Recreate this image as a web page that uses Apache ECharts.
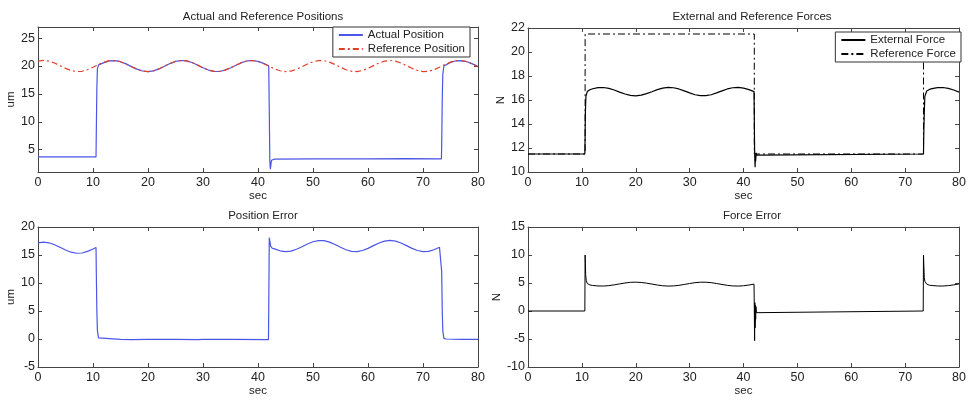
<!DOCTYPE html>
<html>
<head>
<meta charset="utf-8">
<title>Positions and Forces</title>
<script src="https://cdn.jsdelivr.net/npm/echarts@6/dist/echarts.min.js"></script>
<style>
  html, body { margin: 0; padding: 0; background: #fff; }
  #chart { width: 969px; height: 403px; }
</style>
</head>
<body>
<div id="chart"></div>
<script>
// reference position, one value per second from 0 to 80 (um)
var refPosVals = [20.88, 21.00, 20.88, 20.54, 20.07, 19.59, 19.20, 19.01, 19.06, 19.34,
  19.78, 20.27, 20.70, 20.96, 20.98, 20.77, 20.37, 19.88, 19.42, 19.10,
  19.00, 19.15, 19.50, 19.98, 20.46, 20.83, 20.99, 20.92, 20.62, 20.17,
  19.68, 19.27, 19.03, 19.03, 19.27, 19.68, 20.17, 20.62, 20.92, 20.99,
  20.83, 20.46, 19.98, 19.50, 19.15, 19.00, 19.10, 19.42, 19.88, 20.37,
  20.77, 20.98, 20.96, 20.70, 20.27, 19.78, 19.34, 19.06, 19.01, 19.20,
  19.59, 20.07, 20.54, 20.88, 21.00, 20.88, 20.54, 20.07, 19.59, 19.20,
  19.01, 19.06, 19.34, 19.78, 20.27, 20.70, 20.96, 20.98, 20.77, 20.37, 19.88];

// actual position [sec, um]
var actualPos = [[0, 3.7], [5, 3.7], [10, 3.7], [10.55, 3.7], [10.6, 8], [10.7, 16], [10.8, 19.5],
  [11, 20.2], [12, 20.62], [13, 20.92], [14, 20.98], [15, 20.78], [16, 20.39], [17, 19.9],
  [18, 19.44], [19, 19.11], [20, 19.0], [21, 19.14], [22, 19.48], [23, 19.96], [24, 20.44],
  [25, 20.82], [26, 20.99], [27, 20.93], [28, 20.63], [29, 20.19], [30, 19.7], [31, 19.28],
  [32, 19.04], [33, 19.02], [34, 19.26], [35, 19.66], [36, 20.15], [37, 20.6], [38, 20.91],
  [39, 20.99], [40, 20.84], [41, 20.48], [41.95, 20.0], [42.05, 12], [42.15, 3], [42.25, 1.5],
  [42.45, 3.1], [43, 3.3], [50, 3.35], [60, 3.35], [67, 3.4], [73.35, 3.35], [73.4, 6],
  [73.5, 14], [73.6, 18.5], [73.8, 20.0], [74, 20.22], [75, 20.66], [76, 20.94], [77, 20.98],
  [78, 20.78], [79, 20.39], [80, 19.9]];

// position error [sec, um]
var posError = [[0, 17.18], [1, 17.3], [2, 17.18], [3, 16.84], [4, 16.37], [5, 15.89], [6, 15.5],
  [7, 15.31], [8, 15.36], [9, 15.64], [10, 16.08], [10.55, 16.35], [10.6, 12], [10.7, 5],
  [10.8, 1.5], [11, 0.2], [11.3, 0.0], [15, -0.05], [17, -0.12], [20, -0.05], [25, -0.05],
  [29, -0.12], [30, -0.06], [35, -0.05], [41.9, -0.12], [41.95, 5], [42.05, 18.1],
  [42.3, 16.6], [42.6, 16.2], [43, 16.1], [44, 15.75], [45, 15.6], [46, 15.7], [47, 16.02],
  [48, 16.48], [49, 16.97], [50, 17.37], [51, 17.58], [52, 17.56], [53, 17.3], [54, 16.87],
  [55, 16.38], [56, 15.94], [57, 15.66], [58, 15.61], [59, 15.8], [60, 16.19], [61, 16.67],
  [62, 17.14], [63, 17.48], [64, 17.6], [65, 17.48], [66, 17.14], [67, 16.67], [68, 16.19],
  [69, 15.8], [70, 15.61], [71, 15.66], [72, 15.94], [73, 16.38], [73.35, 16.6], [73.4, 12],
  [73.5, 5], [73.6, 1.5], [73.8, 0.1], [74.2, 0], [77, -0.05], [80, -0.08]];

// external force [sec, N]
var extForce = [[0, 11.5], [10.55, 11.5], [10.6, 13], [10.65, 15], [10.75, 16.3], [11, 16.7],
  [11.5, 16.85], [12, 16.94], [13, 17.03], [14, 17.04], [15, 16.97], [16, 16.83], [17, 16.66],
  [18, 16.5], [19, 16.38], [20, 16.35], [21, 16.4], [22, 16.53], [23, 16.69], [24, 16.86],
  [25, 16.99], [26, 17.05], [27, 17.02], [28, 16.92], [29, 16.76], [30, 16.59], [31, 16.44],
  [32, 16.36], [33, 16.36], [34, 16.44], [35, 16.59], [36, 16.76], [37, 16.92], [38, 17.02],
  [39, 17.05], [40, 16.99], [41, 16.86], [41.95, 16.7], [42.0, 14.5], [42.05, 12],
  [42.1, 11], [42.15, 10.4], [42.2, 11.3], [42.25, 10.9], [42.35, 11.6], [42.45, 11.4],
  [42.6, 11.5], [73.4, 11.5], [73.45, 13], [73.55, 15], [73.65, 16.3], [74, 16.75],
  [74.5, 16.88], [75, 16.95], [76, 17.03], [77, 17.04], [78, 16.97], [79, 16.83], [80, 16.66]];

// reference force [sec, N]
var refForce = [[0, 11.5], [10.6, 11.5], [10.6, 21.5], [42.0, 21.5], [42.0, 11.5],
  [73.4, 11.5], [73.4, 21.5], [80, 21.5]];

// force error [sec, N]
var forceError = [[0, 0], [10.55, 0], [10.6, 10], [10.65, 8.5], [10.7, 6.5], [10.8, 5.5],
  [11, 4.9], [11.5, 4.65], [12, 4.56], [13, 4.47], [14, 4.46], [15, 4.53], [16, 4.67],
  [17, 4.84], [18, 5.0], [19, 5.12], [20, 5.15], [21, 5.1], [22, 4.97], [23, 4.81],
  [24, 4.64], [25, 4.51], [26, 4.45], [27, 4.48], [28, 4.58], [29, 4.74], [30, 4.91],
  [31, 5.06], [32, 5.14], [33, 5.14], [34, 5.06], [35, 4.91], [36, 4.74], [37, 4.58],
  [38, 4.48], [39, 4.45], [40, 4.51], [41, 4.64], [41.95, 4.8], [42.0, 0.5], [42.03, -3],
  [42.06, -5.3], [42.1, 1.5], [42.15, -3], [42.2, 1], [42.25, -1.5], [42.3, 0.8],
  [42.4, -0.3], [42.5, 0], [73.35, 0], [73.4, 10], [73.45, 8.5], [73.55, 6], [73.65, 5.3],
  [74, 4.8], [74.5, 4.6], [75, 4.55], [76, 4.47], [77, 4.46], [78, 4.53], [79, 4.67], [80, 4.84]];

var posTicks = [5, 10, 15, 20, 25];

var refPos = refPosVals.map(function (v, i) { return [i, v]; });

var FONT = 'Liberation Sans';
var grids = [
  { left: 38, top: 27, width: 440, height: 145 },
  { left: 528, top: 28, width: 436, height: 144 },
  { left: 38, top: 227, width: 440, height: 140 },
  { left: 528, top: 227, width: 436, height: 140 }
];
var lineAx = { show: true, onZero: false, lineStyle: { color: '#444', width: 1 } };
var tickAx = { show: true, inside: true, length: 4, lineStyle: { color: '#444' } };
var labelAx = { color: '#222', fontFamily: FONT, fontSize: 12.5 };

var xAxes = [], yAxes = [];
var yRanges = [
  { min: 1, max: 27, name: 'um' },
  { min: 10, max: 22, interval: 2, name: 'N' },
  { min: -5, max: 20, interval: 5, name: 'um' },
  { min: -10, max: 15, interval: 5, name: 'N' }
];
for (var g = 0; g < 4; g++) {
  // bottom and top x axes
  xAxes.push({ type: 'value', gridIndex: g, min: 0, max: 80, interval: 10, position: 'bottom',
    axisLine: lineAx, axisTick: tickAx, splitLine: { show: false },
    axisLabel: Object.assign({ margin: 4 }, labelAx),
    name: 'sec', nameLocation: 'middle', nameGap: 17,
    nameTextStyle: { color: '#222', fontFamily: FONT, fontSize: 11.5 } });
  xAxes.push({ type: 'value', gridIndex: g, min: 0, max: 80, interval: 10, position: 'top',
    axisLine: lineAx, axisTick: tickAx, splitLine: { show: false }, axisLabel: { show: false } });
  var r = yRanges[g];
  var yl = { type: 'value', gridIndex: g, min: r.min, max: r.max, position: 'left',
    axisLine: lineAx, axisTick: Object.assign({}, tickAx), splitLine: { show: false },
    axisLabel: Object.assign({ margin: 3 }, labelAx),
    name: r.name, nameLocation: 'middle', nameGap: g % 2 === 0 ? 18 : 17,
    nameTextStyle: { color: '#222', fontFamily: FONT, fontSize: 11.5 } };
  var yr = { type: 'value', gridIndex: g, min: r.min, max: r.max, position: 'right',
    axisLine: lineAx, axisTick: Object.assign({}, tickAx), splitLine: { show: false },
    axisLabel: { show: false } };
  if (r.interval) {
    yl.interval = r.interval; yr.interval = r.interval;
  } else {
    yl.axisLabel.customValues = posTicks;
    yl.axisTick.customValues = posTicks;
    yr.axisTick.customValues = posTicks;
  }
  yAxes.push(yl, yr);
}

function line(name, g, data, color, type, width, z) {
  return { name: name, type: 'line', xAxisIndex: g * 2, yAxisIndex: g * 2, data: data,
    showSymbol: false, symbol: 'none', animation: false, z: z || 2,
    lineStyle: { color: color, width: width || 1, type: type || 'solid' },
    itemStyle: { color: color } };
}

var legendBase = { orient: 'vertical', backgroundColor: '#fff', borderColor: '#333',
  borderWidth: 1, borderRadius: 0, padding: [2, 5, 2, 5], itemGap: 2, itemWidth: 24,
  itemHeight: 12, z: 10, selectedMode: false, itemStyle: { opacity: 0 },
  textStyle: { color: '#222', fontFamily: FONT, fontSize: 11.5 } };

var chart = echarts.init(document.getElementById('chart'), null, { renderer: 'canvas' });
chart.setOption({
  backgroundColor: '#fff',
  animation: false,
  title: [
    { text: 'Actual and Reference Positions', left: 258, top: 6, textAlign: 'center' },
    { text: 'External and Reference Forces', left: 747, top: 6, textAlign: 'center' },
    { text: 'Position Error', left: 258, top: 205, textAlign: 'center' },
    { text: 'Force Error', left: 747, top: 205, textAlign: 'center' }
  ].map(function (t) {
    t.textStyle = { color: '#222', fontFamily: FONT, fontSize: 11.5, fontWeight: 'normal' };
    return t;
  }),
  legend: [
    Object.assign({ right: 499, top: 27, data: ['Actual Position', 'Reference Position'] }, legendBase),
    Object.assign({ right: 8, top: 32, data: ['External Force', 'Reference Force'] }, legendBase)
  ],
  grid: grids,
  xAxis: xAxes,
  yAxis: yAxes,
  series: [
    line('Actual Position', 0, actualPos, '#4b55e6', 'solid', 1.2),
    line('Reference Position', 0, refPos, '#e0402a', [6, 3, 2, 3], 1.2),
    line('Reference Force', 1, refForce, '#000', [7, 3, 2, 3], 1, 2),
    line('External Force', 1, extForce, '#000', 'solid', 1.2, 3),
    line('Position Error', 2, posError, '#4b55e6', 'solid', 1.2),
    line('Force Error', 3, forceError, '#000', 'solid', 1)
  ]
});
</script>
</body>
</html>
